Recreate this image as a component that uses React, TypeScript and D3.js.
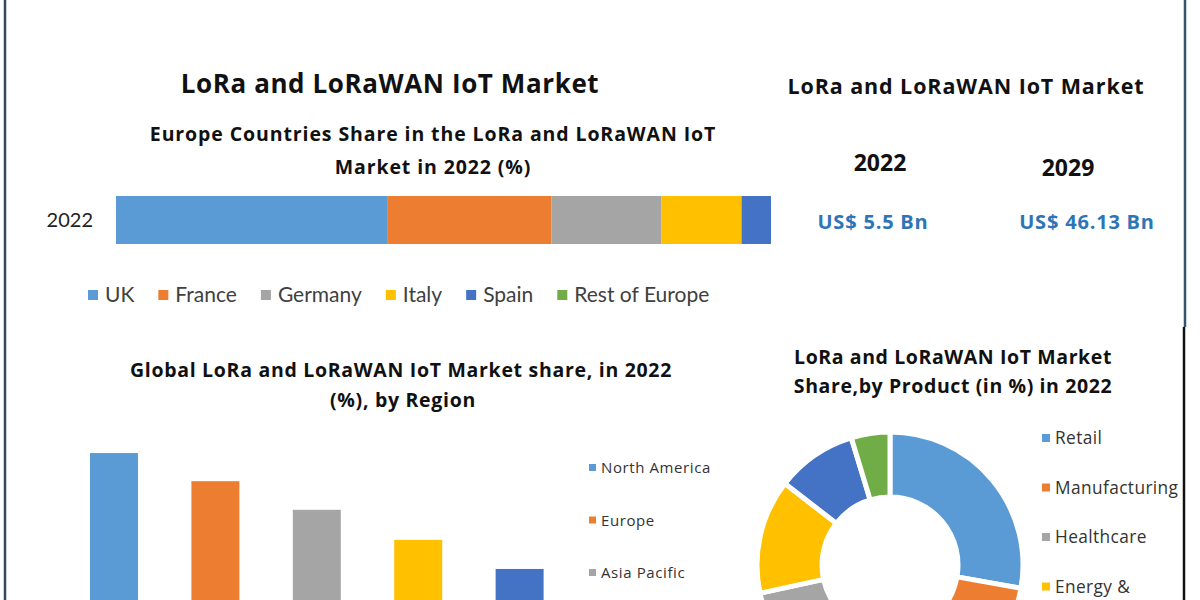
import React, { useEffect, useRef } from "react";
import * as d3 from "d3";

// ---- data ----
const europeCountries = ["UK", "France", "Germany", "Italy", "Spain", "Rest of Europe"];
const europeShares = [41.5, 25.0, 16.8, 12.2, 4.5, 0];
const europeYear = "2022";

const regions = ["North America", "Europe", "Asia Pacific", "Middle East and Africa", "South America"];
const regionShares = [35, 29.1, 23.1, 16.8, 10.7];

const products = ["Retail", "Manufacturing", "Healthcare", "Energy & Utilities", "Transportation", "Others"];
const productShares = [27.8, 24, 19.8, 13.9, 9.8, 4.7];

const marketYears = ["2022", "2029"];
const marketValues = ["US$ 5.5 Bn", "US$ 46.13 Bn"];

const palette = ["#5b9bd5", "#ed7d31", "#a5a5a5", "#ffc000", "#4472c4", "#70ad47"];

const TITLE_FONT = "'Open Sans', 'Noto Sans', sans-serif";
const BODY_FONT = "Lato, 'Open Sans', sans-serif";

export default function App() {
  const ref = useRef<SVGSVGElement | null>(null);

  useEffect(() => {
    const svg = d3.select(ref.current);
    svg.selectAll("*").remove();

    // frame lines
    svg.append("line").attr("x1", 5).attr("x2", 5).attr("y1", 0).attr("y2", 600)
      .attr("stroke", "#34495e").attr("stroke-width", 2.5);
    svg.append("line").attr("x1", 1185).attr("x2", 1185).attr("y1", 0).attr("y2", 327)
      .attr("stroke", "#34556e").attr("stroke-width", 2.5);
    svg.append("line").attr("x1", 1184).attr("x2", 1184).attr("y1", 327).attr("y2", 600)
      .attr("stroke", "#111").attr("stroke-width", 2.5);

    const text = (x: number, y: number, s: string, size: number, opts: any = {}) =>
      svg.append("text")
        .attr("x", x).attr("y", y)
        .attr("text-anchor", opts.anchor || "middle")
        .attr("font-family", opts.family || TITLE_FONT)
        .attr("font-weight", opts.weight || "bold")
        .attr("font-size", size)
        .attr("fill", opts.fill || "#111")
        .attr("letter-spacing", opts.ls || 0)
        .text(s);

    // ---- titles ----
    text(390, 93, "LoRa and LoRaWAN IoT Market", 26, { ls: 0.6 });
    text(433, 141, "Europe Countries Share in the LoRa and LoRaWAN IoT", 19.5, { ls: 0.9 });
    text(433, 174, "Market in 2022 (%)", 19.5, { ls: 0.9 });

    text(966, 94, "LoRa and LoRaWAN IoT Market", 21.5, { ls: 0.9 });
    marketYears.forEach((yr, i) => {
      text(i === 0 ? 880 : 1068, i === 0 ? 171 : 176, yr, 23);
    });
    marketValues.forEach((v, i) => {
      text(i === 0 ? 873 : 1087, 229, v, 20, { fill: "#2e75b6", ls: 0.8 });
    });

    // ---- stacked bar ----
    const xS = d3.scaleLinear().domain([0, 100]).range([116, 771]);
    const yS = d3.scaleBand().domain([europeYear]).range([196, 244]).padding(0);
    let acc = 0;
    const stacked = europeShares.map((v, i) => {
      const s = { name: europeCountries[i], x0: acc, x1: acc + v, c: palette[i] };
      acc += v;
      return s;
    });
    svg.append("g").selectAll("rect").data(stacked).join("rect")
      .attr("x", d => xS(d.x0)).attr("width", d => Math.max(0, xS(d.x1) - xS(d.x0)))
      .attr("y", yS(europeYear)!).attr("height", yS.bandwidth())
      .attr("fill", d => d.c);
    text(93, yS(europeYear)! + yS.bandwidth() / 2 + 7, europeYear, 20,
      { anchor: "end", family: BODY_FONT, weight: "normal", fill: "#222" });

    // legend for stacked bar (flow layout)
    const lg = svg.append("g");
    let lx = 88;
    europeCountries.forEach((name, i) => {
      lg.append("rect").attr("x", lx).attr("y", 290).attr("width", 10).attr("height", 10).attr("fill", palette[i]);
      const t = lg.append("text").attr("x", lx + 17).attr("y", 302)
        .attr("font-family", BODY_FONT).attr("font-size", 21).attr("fill", "#404040").text(name);
      const w = (t.node() as SVGTextElement).getComputedTextLength();
      lx += 17 + w + 24;
    });

    // ---- region bar chart ----
    text(401, 377, "Global LoRa and LoRaWAN IoT Market share, in 2022", 19.5, { ls: 0.7 });
    text(403, 407, "(%), by Region", 19.5, { ls: 0.7 });

    const bx = d3.scaleBand().domain(regions).range([39.3, 594.3]).paddingInner(0.527).paddingOuter(0.5);
    const by = d3.scaleLinear().domain([0, 40]).range([620, 429.2]);
    svg.append("g").selectAll("rect").data(regions).join("rect")
      .attr("x", d => bx(d)!).attr("width", bx.bandwidth())
      .attr("y", (d, i) => by(regionShares[i])).attr("height", (d, i) => by(0) - by(regionShares[i]))
      .attr("fill", (d, i) => palette[i]);

    regions.forEach((r, i) => {
      const y = 473 + i * 52.5;
      if (y > 590) return; // entries below the visible frame
      svg.append("rect").attr("x", 589).attr("y", y - 9).attr("width", 7).attr("height", 7).attr("fill", palette[i]);
      svg.append("text").attr("x", 601).attr("y", y).attr("font-family", TITLE_FONT)
        .attr("font-size", 15).attr("fill", "#333").attr("letter-spacing", 0.6).text(r);
    });

    // ---- donut ----
    text(953, 364, "LoRa and LoRaWAN IoT Market", 19.5, { ls: 0.6 });
    text(953, 393, "Share,by Product (in %) in 2022", 19.5, { ls: 0.6 });

    const pie = d3.pie<number>().sort(null).value(d => d);
    const arc = d3.arc<d3.PieArcDatum<number>>().innerRadius(68).outerRadius(133);
    const dg = svg.append("g").attr("transform", "translate(890,565)");
    dg.selectAll("path").data(pie(productShares)).join("path")
      .attr("d", arc as any)
      .attr("fill", (d, i) => palette[i])
      .attr("stroke", "#fff").attr("stroke-width", 5).attr("stroke-linejoin", "miter");

    products.forEach((p, i) => {
      const y = 444 + i * 49.5;
      if (y > 598) return;
      svg.append("rect").attr("x", 1042).attr("y", y - 10).attr("width", 8).attr("height", 8).attr("fill", palette[i]);
      const parts = p === "Energy & Utilities" ? ["Energy &", "Utilities"] : [p];
      parts.forEach((s, k) => {
        const yy = y + k * 22;
        if (yy > 598) return;
        svg.append("text").attr("x", 1055).attr("y", yy).attr("font-family", TITLE_FONT)
          .attr("font-size", 17.3).attr("fill", "#333").attr("letter-spacing", 0.4).text(s);
      });
    });
  }, []);

  return (
    <svg ref={ref} width={1200} height={600}
      style={{ position: "absolute", left: 0, top: 0, background: "#fff" }} />
  );
}
